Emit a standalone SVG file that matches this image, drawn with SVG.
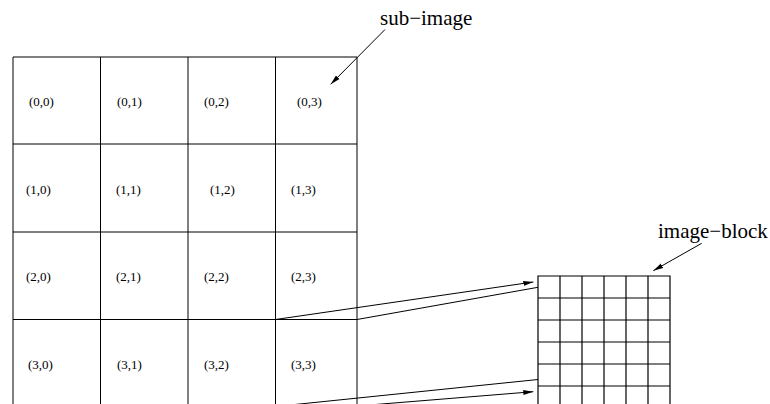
<svg xmlns="http://www.w3.org/2000/svg" width="770" height="404" viewBox="0 0 770 404">
  <style>
    .grid { stroke: #000; stroke-width: 1; fill: none; }
    .blk { stroke: #000; stroke-width: 1.2; fill: none; }
    .cell-label { font-family: "Liberation Serif", "Times New Roman", serif; font-size: 13px; fill: #000; }
    .title { font-family: "Liberation Serif", "Times New Roman", serif; font-size: 21px; fill: #000; }
    .conn { stroke: #000; stroke-width: 1; fill: none; }
  </style>
  <defs>
    <marker id="arrow" markerUnits="userSpaceOnUse" markerWidth="12" markerHeight="8" refX="10" refY="3" orient="auto">
      <path d="M0,0.5 L10,3 L0,5.5 Z" fill="#000"/>
    </marker>
  </defs>
  <rect width="770" height="404" fill="#fff"/>

  <!-- 4x4 image divided into sub-images -->
  <g id="sub-image-grid" class="grid">
    <path d="M13,404 V57 H357 V404"/>
    <path d="M100.5,57 V404 M188,57 V404 M275.5,57 V404"/>
    <path d="M13,144 H357 M13,232 H357 M13,319.5 H357"/>
  </g>

  <g id="cell-0-0"><text class="cell-label" x="29" y="106">(0,0)</text></g>
  <g id="cell-0-1"><text class="cell-label" x="117" y="106">(0,1)</text></g>
  <g id="cell-0-2"><text class="cell-label" x="204" y="106">(0,2)</text></g>
  <g id="cell-0-3"><text class="cell-label" x="297" y="106">(0,3)</text></g>

  <g id="cell-1-0"><text class="cell-label" x="26" y="193.5">(1,0)</text></g>
  <g id="cell-1-1"><text class="cell-label" x="116" y="193.5">(1,1)</text></g>
  <g id="cell-1-2"><text class="cell-label" x="210" y="193.5">(1,2)</text></g>
  <g id="cell-1-3"><text class="cell-label" x="291" y="193.5">(1,3)</text></g>

  <g id="cell-2-0"><text class="cell-label" x="26" y="281">(2,0)</text></g>
  <g id="cell-2-1"><text class="cell-label" x="116" y="281">(2,1)</text></g>
  <g id="cell-2-2"><text class="cell-label" x="204" y="281">(2,2)</text></g>
  <g id="cell-2-3"><text class="cell-label" x="291" y="281">(2,3)</text></g>

  <g id="cell-3-0"><text class="cell-label" x="28" y="368.5">(3,0)</text></g>
  <g id="cell-3-1"><text class="cell-label" x="117" y="368.5">(3,1)</text></g>
  <g id="cell-3-2"><text class="cell-label" x="204" y="368.5">(3,2)</text></g>
  <g id="cell-3-3"><text class="cell-label" x="291" y="368.5">(3,3)</text></g>

  <!-- enlarged sub-image made of image blocks -->
  <g id="image-block-grid" class="blk">
    <path d="M538,404 V276 H670 V404"/>
    <path d="M560,276 V404 M582,276 V404 M604,276 V404 M626,276 V404 M648,276 V404"/>
    <path d="M538,298 H670 M538,320 H670 M538,342 H670 M538,364 H670 M538,386 H670"/>
  </g>

  <g id="label-sub-image"><text class="title" x="380" y="25">sub−image</text></g>
  <g id="label-image-block"><text class="title" x="658" y="237.5">image−block</text></g>

  <g id="connectors" class="conn">
    <line x1="385" y1="29.5" x2="330.7" y2="84.3" marker-end="url(#arrow)"/>
    <line x1="701.7" y1="243.3" x2="653.3" y2="270.7" marker-end="url(#arrow)"/>
    <line x1="275.5" y1="319.5" x2="533.3" y2="282" marker-end="url(#arrow)"/>
    <line x1="357" y1="319.5" x2="538" y2="287.3"/>
    <line x1="275.5" y1="406.5" x2="538" y2="379.5"/>
    <line x1="357" y1="406" x2="533.3" y2="391.7" marker-end="url(#arrow)"/>
  </g>
</svg>
